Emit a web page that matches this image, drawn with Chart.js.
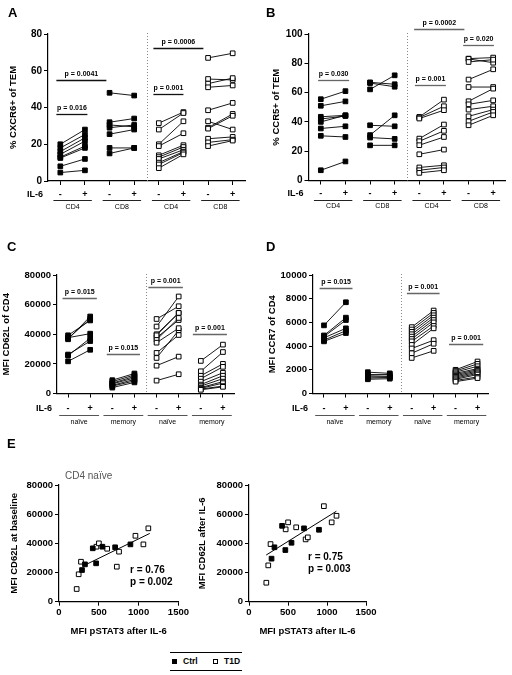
<!DOCTYPE html>
<html>
<head>
<meta charset="utf-8">
<title>IL-6 effect on TEM / CD4 markers</title>
<script src="https://cdn.jsdelivr.net/npm/chart.js@4.4.1/dist/chart.umd.min.js"></script>
<style>
  body { margin: 0; background: #fff; }
  #fig { position: relative; width: 512px; height: 675px; overflow: hidden;
         font-family: "Liberation Sans", Arial, Helvetica, sans-serif; color: #000; }
  #fig canvas { position: absolute; }
  .lbl { position: absolute; white-space: nowrap; }
  .panel { font-size: 13px; font-weight: bold; line-height: 13px; }
  .stat { font-size: 10px; font-weight: bold; line-height: 12px; }
  .sub { font-size: 10px; line-height: 10px; color: #555; }
  #legend { position: absolute; left: 170px; top: 652px; width: 72px; height: 17px;
            border-top: 1px solid #000; border-bottom: 1px solid #000; }
  #legend .sq { position: absolute; top: 6px; width: 5px; height: 5px; box-sizing: border-box; border: 1px solid #000; }
  #legend .txt { position: absolute; top: 3px; font-size: 8.5px; font-weight: bold; line-height: 11px; }
</style>
</head>
<body>
<div id="fig">
  <canvas id="cA" width="256" height="215" style="left:0;top:0"></canvas>
  <canvas id="cB" width="256" height="215" style="left:256px;top:0"></canvas>
  <canvas id="cC" width="256" height="215" style="left:0;top:215px"></canvas>
  <canvas id="cD" width="256" height="215" style="left:256px;top:215px"></canvas>
  <canvas id="cE1" width="190" height="205" style="left:0;top:440px"></canvas>
  <canvas id="cE2" width="190" height="205" style="left:190px;top:440px"></canvas>

  <div class="lbl panel" style="left:8px;top:6px">A</div>
  <div class="lbl panel" style="left:266px;top:6px">B</div>
  <div class="lbl panel" style="left:7px;top:240px">C</div>
  <div class="lbl panel" style="left:266px;top:240px">D</div>
  <div class="lbl panel" style="left:7px;top:437px">E</div>

  <div class="lbl sub" style="left:65px;top:471px">CD4 naïve</div>
  <div class="lbl stat" style="left:130px;top:564px">r = 0.76<br>p = 0.002</div>
  <div class="lbl stat" style="left:308px;top:551px">r = 0.75<br>p = 0.003</div>

  <div id="legend">
    <span class="sq" style="left:2px;background:#000"></span><span class="txt" style="left:13px">Ctrl</span>
    <span class="sq" style="left:43px;background:#fff"></span><span class="txt" style="left:54px">T1D</span>
  </div>
</div>

<script>
// ---- datos ----
const ilSigns = ['-', '+'];
const groupsAB = ['CD4', 'CD8', 'CD4', 'CD8'];
const groupsCD = ['naïve', 'memory', 'naïve', 'memory'];

// A: % CXCR6+ of TEM (antes / despues de IL-6)
const cxcr6Cd4CtrlPre  = [20, 18, 16, 14.5, 13, 12.5, 8, 4.6];
const cxcr6Cd4CtrlPost = [28, 25.3, 23.5, 21.7, 19, 18, 12, 5.8];
const cxcr6Cd8CtrlPre  = [48, 32, 30.5, 29, 25.5, 18, 15];
const cxcr6Cd8CtrlPost = [46.5, 34, 29.5, 30.5, 28, 18, 18];
const cxcr6Cd4T1dPre   = [31.5, 28, 20, 19, 14, 13, 12, 10, 9, 7];
const cxcr6Cd4T1dPost  = [37.5, 37, 32.5, 26, 19.5, 18.5, 17, 16, 15.5, 14.5];
const cxcr6Cd8T1dPre   = [67, 55.5, 53, 51, 38.5, 32.5, 29, 28.5, 23, 21, 19];
const cxcr6Cd8T1dPost  = [69.5, 55, 56, 52, 42.5, 28, 36.5, 35.5, 24, 22.5, 22];

// B: % CCR5+ of TEM
const ccr5Cd4CtrlPre  = [55.5, 51, 43.5, 42, 40, 35.5, 30.5, 7];
const ccr5Cd4CtrlPost = [61, 54, 44.5, 44, 44.5, 37, 29.7, 13];
const ccr5Cd8CtrlPre  = [67, 66.5, 62.2, 37.7, 31, 29.3, 24];
const ccr5Cd8CtrlPost = [65.7, 64, 71.8, 37, 44.5, 28.4, 24];
const ccr5Cd4T1dPre   = [43.4, 43, 42.3, 28.6, 26.8, 24.1, 17.9, 8.9, 7, 5.2];
const ccr5Cd4T1dPost  = [55.2, 50.7, 48, 38.2, 33.9, 29.7, 21.1, 10.4, 8.9, 7];
const ccr5Cd8T1dPre   = [83.2, 83, 80.9, 68.9, 63.8, 54.1, 52, 48.4, 43.8, 40.4, 37.7];
const ccr5Cd8T1dPost  = [83.9, 80.4, 82.5, 75.9, 63.8, 62.7, 54.7, 50.7, 48.4, 46.8, 44.5];

// C: MFI CD62L of CD4 (naive tambien usado en E)
const cd62lNaiveCtrlPre  = [21700, 25600, 36600, 26300, 37700, 37300, 39300];
const cd62lNaiveCtrlPost = [29500, 37300, 52000, 35400, 40400, 50300, 49300];
const cd62lMemCtrlPre    = [4000, 5000, 5500, 6500, 7000, 8000, 9000];
const cd62lMemCtrlPost   = [7500, 8500, 9500, 10500, 11500, 12500, 13500];
const cd62lNaiveT1dPre   = [8700, 18800, 27400, 37700, 40000, 36300, 24000, 34300, 45200, 39300, 50300];
const cd62lNaiveT1dPost  = [13000, 24900, 39500, 49600, 54400, 51000, 42700, 44100, 65500, 54400, 58900];
const cd62lMemT1dPre     = [22000, 15000, 12000, 10000, 8000, 6000, 5000, 4000, 3500, 3000, 2500];
const cd62lMemT1dPost    = [33000, 28000, 20000, 18000, 14000, 12000, 10000, 8000, 7000, 5000, 4500];

// D: MFI CCR7 of CD4
const ccr7NaiveCtrlPre  = [5750, 4900, 4800, 4700, 4500, 4400];
const ccr7NaiveCtrlPost = [7700, 6400, 6200, 5500, 5300, 5100];
const ccr7MemCtrlPre    = [1800, 1600, 1500, 1400, 1300, 1200];
const ccr7MemCtrlPost   = [1700, 1600, 1450, 1400, 1350, 1250];
const ccr7NaiveT1dPre   = [5600, 5400, 5200, 5000, 4800, 4600, 4400, 4100, 3800, 3400, 3000];
const ccr7NaiveT1dPost  = [7000, 6800, 6600, 6400, 6200, 6000, 5700, 5500, 4500, 4200, 3600];
const ccr7MemT1dPre     = [2000, 1900, 1800, 1700, 1600, 1500, 1400, 1300, 1200, 1100, 1000];
const ccr7MemT1dPost    = [2700, 2500, 2300, 2100, 2000, 1900, 1800, 1700, 1600, 1400, 1300];

// E: MFI pSTAT3 after IL-6 (mismo orden que CD62L naive)
const pstat3Ctrl = [289, 326, 424, 466, 545, 705, 897];
const pstat3T1d  = [222, 247, 276, 470, 501, 605, 726, 754, 960, 1060, 1122];
const fitBaselineX = [310, 1140];
const fitBaselineY = [24700, 46800];
const fitAfterX = [220, 1120];
const fitAfterY = [32000, 62000];

// ---- estilo general ----
const FAM = '"Liberation Sans", Arial, Helvetica, sans-serif';
Chart.defaults.font.family = FAM;
Chart.defaults.color = '#000';

// plot area de cada panel en coordenadas de pagina
const geoA = { canvas: { l: 0, t: 0, w: 256, h: 215 }, plot: { l: 48, t: 34, r: 245, b: 181 } };
const geoB = { canvas: { l: 256, t: 0, w: 256, h: 215 }, plot: { l: 308.5, t: 34, r: 505.5, b: 180.5 } };
const geoC = { canvas: { l: 0, t: 215, w: 256, h: 215 }, plot: { l: 57, t: 275, r: 234, b: 393.5 } };
const geoD = { canvas: { l: 256, t: 215, w: 256, h: 215 }, plot: { l: 313, t: 275, r: 488.5, b: 393.5 } };
const geoE1 = { canvas: { l: 0, t: 440, w: 190, h: 205 }, plot: { l: 59, t: 485, r: 179, b: 601.7 } };
const geoE2 = { canvas: { l: 190, t: 440, w: 190, h: 205 }, plot: { l: 249, t: 485, r: 366, b: 601.7 } };

function frame(geo) {
  const c = geo.canvas, p = geo.plot;
  return {
    padding: { left: 0, top: p.t - c.t, right: c.l + c.w - p.r, bottom: 0 },
    yw: p.l - c.l,
    xh: c.t + c.h - p.b
  };
}

const axisGrid = { drawOnChartArea: false, tickLength: 4, color: '#000', lineWidth: 1 };
const axisBorder = { color: '#000', width: 1.2 };

// pares antes/despues: un dataset por grupo, con huecos entre sujetos
function pairPoints(pos, pre, post) {
  const pts = [];
  pre.forEach((v, i) => {
    pts.push({ x: pos, y: v }, { x: pos + 1, y: post[i] }, { x: pos + 0.5, y: null });
  });
  return pts;
}

// separador punteado, fila IL-6, grupos y corchetes de p
const pairDecor = {
  id: 'pairDecor',
  afterDraw(chart, args, o) {
    const { ctx, chartArea: a } = chart;
    const x = chart.scales.x, y = chart.scales.y;
    ctx.save();
    const sx = Math.round(x.getPixelForValue(4.5)) + 0.5;
    ctx.strokeStyle = '#888';
    ctx.lineWidth = 1;
    ctx.setLineDash([1, 2]);
    ctx.beginPath(); ctx.moveTo(sx, a.top - 1); ctx.lineTo(sx, a.bottom); ctx.stroke();
    ctx.setLineDash([]);

    ctx.fillStyle = '#000';
    ctx.textBaseline = 'middle';
    ctx.font = `bold 9px ${FAM}`;
    ctx.textAlign = 'right';
    ctx.fillText('IL-6', a.left - 5, a.bottom + o.signDy);

    ctx.font = `7px ${FAM}`;
    ctx.textAlign = 'center';
    ctx.strokeStyle = o.underColor;
    o.groups.forEach((g, i) => {
      const c = 2 * i + 1.5;
      const x0 = x.getPixelForValue(c - o.underHalf), x1 = x.getPixelForValue(c + o.underHalf);
      const ly = Math.round(a.bottom + o.lineDy) + 0.5;
      ctx.beginPath(); ctx.moveTo(x0, ly); ctx.lineTo(x1, ly); ctx.stroke();
      ctx.fillText(g, (x0 + x1) / 2, a.bottom + o.labelDy);
    });

    ctx.font = `bold 7px ${FAM}`;
    ctx.strokeStyle = o.bracketColor;
    ctx.lineWidth = 1.3;
    o.brackets.forEach(b => {
      const x0 = x.getPixelForValue(b.from), x1 = x.getPixelForValue(b.to);
      const by = Math.round(y.getPixelForValue(b.y)) + 0.5;
      ctx.beginPath(); ctx.moveTo(x0, by); ctx.lineTo(x1, by); ctx.stroke();
      ctx.fillText(b.text, (x0 + x1) / 2, by - 6);
    });
    ctx.restore();
  }
};

function pairedChart(id, geo, yCfg, slots, decor) {
  const f = frame(geo);
  const datasets = slots.map((s, i) => ({
    type: 'line',
    data: pairPoints(2 * i + 1, s.pre, s.post),
    borderColor: '#000',
    borderWidth: 0.9,
    pointStyle: 'rect',
    pointRadius: 3.3,
    pointBackgroundColor: s.filled ? '#000' : '#fff',
    pointBorderColor: '#000',
    pointBorderWidth: 1,
    spanGaps: false,
    clip: false
  }));
  return new Chart(document.getElementById(id), {
    type: 'line',
    data: { datasets },
    options: {
      responsive: false,
      animation: false,
      events: [],
      layout: { padding: f.padding, autoPadding: false },
      plugins: { legend: { display: false }, tooltip: { enabled: false }, pairDecor: decor },
      scales: {
        x: {
          type: 'linear', min: 0.5, max: 8.5,
          afterFit: s => { s.height = f.xh; },
          afterBuildTicks: s => { s.ticks = [1, 2, 3, 4, 5, 6, 7, 8].map(v => ({ value: v })); },
          ticks: {
            callback: v => ilSigns[(v - 1) % 2],
            font: { size: 9, weight: 'bold' }, padding: decor.signPad,
            maxRotation: 0, autoSkip: false
          },
          grid: axisGrid,
          border: axisBorder
        },
        y: {
          type: 'linear', min: 0, max: yCfg.max,
          afterFit: s => { s.width = f.yw; },
          ticks: { stepSize: yCfg.step, callback: v => String(v), font: { size: yCfg.tickSize, weight: 'bold' }, padding: 2 },
          grid: axisGrid,
          border: axisBorder,
          title: { display: true, text: yCfg.title, font: { size: 9.5, weight: 'bold' }, padding: { top: yCfg.titlePad, bottom: 0 } }
        }
      }
    },
    plugins: [pairDecor]
  });
}

function xy(xs, ys) { return xs.map((v, i) => ({ x: v, y: ys[i] })); }

function scatterChart(id, geo, yTitle, titlePad, ctrlY, t1dY, fitX, fitY) {
  const f = frame(geo);
  return new Chart(document.getElementById(id), {
    type: 'scatter',
    data: {
      datasets: [
        { data: xy(pstat3Ctrl, ctrlY), pointStyle: 'rect', pointRadius: 3.3, backgroundColor: '#000', borderColor: '#000', borderWidth: 1, clip: false },
        { data: xy(pstat3T1d, t1dY), pointStyle: 'rect', pointRadius: 3.3, backgroundColor: '#fff', borderColor: '#000', borderWidth: 1, clip: false },
        { type: 'line', data: xy(fitX, fitY), borderColor: '#000', borderWidth: 1, pointRadius: 0 }
      ]
    },
    options: {
      responsive: false,
      animation: false,
      events: [],
      layout: { padding: f.padding, autoPadding: false },
      plugins: { legend: { display: false }, tooltip: { enabled: false } },
      scales: {
        x: {
          type: 'linear', min: 0, max: 1500,
          afterFit: s => { s.height = f.xh; },
          ticks: { stepSize: 500, callback: v => String(v), font: { size: 9.5, weight: 'bold' }, padding: 1, maxRotation: 0 },
          grid: axisGrid,
          border: axisBorder,
          title: { display: true, text: 'MFI pSTAT3 after IL-6', font: { size: 9.5, weight: 'bold' }, padding: { top: 0, bottom: 7.6 } }
        },
        y: {
          type: 'linear', min: 0, max: 80000,
          afterFit: s => { s.width = f.yw; },
          ticks: { stepSize: 20000, callback: v => String(v), font: { size: 9.5, weight: 'bold' }, padding: 2 },
          grid: axisGrid,
          border: axisBorder,
          title: { display: true, text: yTitle, font: { size: 9.5, weight: 'bold' }, padding: { top: titlePad, bottom: 0 } }
        }
      }
    }
  });
}

const decorAB = { groups: groupsAB, signPad: 3.9, signDy: 13.3, lineDy: 19, labelDy: 26, underHalf: 0.78, underColor: '#222' };
const decorCD = { groups: groupsCD, signPad: 5.4, signDy: 14.8, lineDy: 21.5, labelDy: 28.2, underHalf: 0.9, underColor: '#555' };

pairedChart('cA', geoA, { max: 80, step: 20, tickSize: 10, title: '% CXCR6+ of TEM', titlePad: 7.3 }, [
  { pre: cxcr6Cd4CtrlPre, post: cxcr6Cd4CtrlPost, filled: true },
  { pre: cxcr6Cd8CtrlPre, post: cxcr6Cd8CtrlPost, filled: true },
  { pre: cxcr6Cd4T1dPre, post: cxcr6Cd4T1dPost, filled: false },
  { pre: cxcr6Cd8T1dPre, post: cxcr6Cd8T1dPost, filled: false }
], Object.assign({}, decorAB, {
  bracketColor: '#111',
  brackets: [
    { text: 'p = 0.016', from: 0.84, to: 2.1, y: 36.2 },
    { text: 'p = 0.0041', from: 0.84, to: 2.87, y: 54.9 },
    { text: 'p = 0.001', from: 4.78, to: 6.0, y: 47.1 },
    { text: 'p = 0.0006', from: 4.78, to: 6.81, y: 72.2 }
  ]
}));

pairedChart('cB', geoB, { max: 100, step: 20, tickSize: 10, title: '% CCR5+ of TEM', titlePad: 14.3 }, [
  { pre: ccr5Cd4CtrlPre, post: ccr5Cd4CtrlPost, filled: true },
  { pre: ccr5Cd8CtrlPre, post: ccr5Cd8CtrlPost, filled: true },
  { pre: ccr5Cd4T1dPre, post: ccr5Cd4T1dPost, filled: false },
  { pre: ccr5Cd8T1dPre, post: ccr5Cd8T1dPost, filled: false }
], Object.assign({}, decorAB, {
  bracketColor: '#666',
  brackets: [
    { text: 'p = 0.030', from: 0.89, to: 2.15, y: 68.4 },
    { text: 'p = 0.001', from: 4.82, to: 6.08, y: 65.4 },
    { text: 'p = 0.020', from: 6.78, to: 8.03, y: 92.2 },
    { text: 'p = 0.0002', from: 4.79, to: 6.83, y: 103.6 }
  ]
}));

pairedChart('cC', geoC, { max: 80000, step: 20000, tickSize: 9.5, title: 'MFI CD62L of CD4', titlePad: 0.5 }, [
  { pre: cd62lNaiveCtrlPre, post: cd62lNaiveCtrlPost, filled: true },
  { pre: cd62lMemCtrlPre, post: cd62lMemCtrlPost, filled: true },
  { pre: cd62lNaiveT1dPre, post: cd62lNaiveT1dPost, filled: false },
  { pre: cd62lMemT1dPre, post: cd62lMemT1dPost, filled: false }
], Object.assign({}, decorCD, {
  bracketColor: '#666',
  brackets: [
    { text: 'p = 0.015', from: 0.75, to: 2.3, y: 64700 },
    { text: 'p = 0.015', from: 2.75, to: 4.25, y: 26500 },
    { text: 'p = 0.001', from: 4.63, to: 6.19, y: 72200 },
    { text: 'p = 0.001', from: 6.64, to: 8.18, y: 40000 }
  ]
}));

pairedChart('cD', geoD, { max: 10000, step: 2000, tickSize: 9.5, title: 'MFI CCR7 of CD4', titlePad: 10.3 }, [
  { pre: ccr7NaiveCtrlPre, post: ccr7NaiveCtrlPost, filled: true },
  { pre: ccr7MemCtrlPre, post: ccr7MemCtrlPost, filled: true },
  { pre: ccr7NaiveT1dPre, post: ccr7NaiveT1dPost, filled: false },
  { pre: ccr7MemT1dPre, post: ccr7MemT1dPost, filled: false }
], Object.assign({}, decorCD, {
  bracketColor: '#666',
  brackets: [
    { text: 'p = 0.015', from: 0.8, to: 2.3, y: 8880 },
    { text: 'p = 0.001', from: 4.78, to: 6.27, y: 8450 },
    { text: 'p = 0.001', from: 6.7, to: 8.26, y: 4200 }
  ]
}));

scatterChart('cE1', geoE1, 'MFI CD62L at baseline', 8.3, cd62lNaiveCtrlPre, cd62lNaiveT1dPre, fitBaselineX, fitBaselineY);
scatterChart('cE2', geoE2, 'MFI CD62L after IL-6', 6.8, cd62lNaiveCtrlPost, cd62lNaiveT1dPost, fitAfterX, fitAfterY);
</script>
</body>
</html>
